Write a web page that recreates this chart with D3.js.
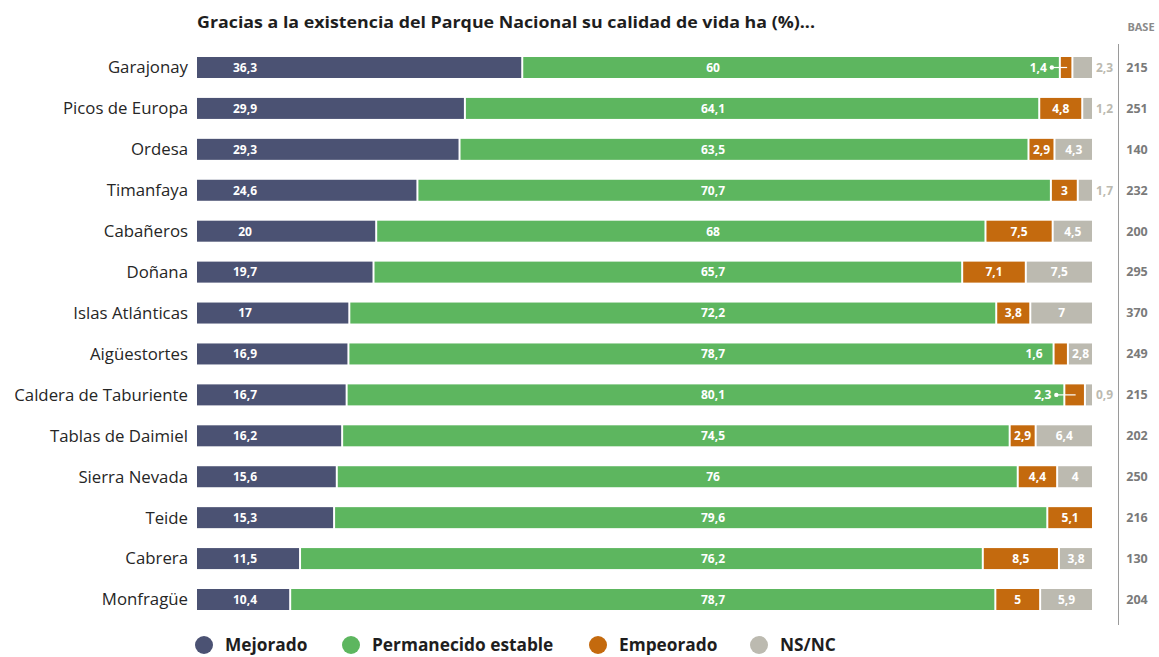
<!DOCTYPE html>
<html>
<head>
<meta charset="utf-8">
<script src="https://cdn.jsdelivr.net/npm/d3@7"></script>
<style>
  body { margin: 0; background: #fff; }
  svg text { font-family: "Open Sans", "Noto Sans", sans-serif; }
</style>
</head>
<body>
<svg id="chart" width="1159" height="657"></svg>
<script>
const parks = ["Garajonay", "Picos de Europa", "Ordesa", "Timanfaya", "Cabañeros", "Doñana",
  "Islas Atlánticas", "Aigüestortes", "Caldera de Taburiente", "Tablas de Daimiel",
  "Sierra Nevada", "Teide", "Cabrera", "Monfragüe"];
const mejorado = [36.3, 29.9, 29.3, 24.6, 20, 19.7, 17, 16.9, 16.7, 16.2, 15.6, 15.3, 11.5, 10.4];
const estable = [60, 64.1, 63.5, 70.7, 68, 65.7, 72.2, 78.7, 80.1, 74.5, 76, 79.6, 76.2, 78.7];
const empeorado = [1.4, 4.8, 2.9, 3, 7.5, 7.1, 3.8, 1.6, 2.3, 2.9, 4.4, 5.1, 8.5, 5];
const nsnc = [2.3, 1.2, 4.3, 1.7, 4.5, 7.5, 7, 2.8, 0.9, 6.4, 4, 0, 3.8, 5.9];
const base = [215, 251, 140, 232, 200, 295, 370, 249, 215, 202, 250, 216, 130, 204];
const seriesNames = ["Mejorado", "Permanecido estable", "Empeorado", "NS/NC"];
const colors = ["#4b5273", "#5db65f", "#c46a0e", "#bcbab0"];
// parks whose small "empeorado" label is pulled left with a dot leader
const leaderParks = ["Garajonay", "Caldera de Taburiente"];

const fmt = v => String(v).replace(".", ",");
const svg = d3.select("#chart");

const x = d3.scaleLinear().domain([0, 100]).range([197, 1093]);
const y = d3.scalePoint().domain(parks).range([67.5, 599.5]);
const barH = 21;

const rows = parks.map((p, i) => ({
  park: p, vals: [mejorado[i], estable[i], empeorado[i], nsnc[i]], base: base[i]
}));

// title
svg.append("text")
  .attr("x", 197).attr("y", 28)
  .attr("font-size", 16.5).attr("font-weight", 700).attr("fill", "#1e1e1e")
  .attr("textLength", 618).attr("lengthAdjust", "spacingAndGlyphs")
  .text("Gracias a la existencia del Parque Nacional su calidad de vida ha (%)...");

svg.append("text")
  .attr("x", 1141).attr("y", 31).attr("text-anchor", "middle")
  .attr("font-size", 11).attr("font-weight", 700).attr("fill", "#8a8a8a")
  .text("BASE");

svg.append("line")
  .attr("x1", 1118.5).attr("x2", 1118.5).attr("y1", 44).attr("y2", 625)
  .attr("stroke", "#9a9a9a").attr("stroke-width", 1);

const g = svg.selectAll(".row").data(rows).join("g")
  .attr("class", "row")
  .attr("transform", d => `translate(0,${y(d.park)})`);

g.append("text")
  .attr("x", 188).attr("y", 0).attr("dy", "0.35em").attr("text-anchor", "end")
  .attr("font-size", 16.8).attr("fill", "#262626")
  .text(d => d.park);

g.append("text")
  .attr("x", 1137).attr("y", 0).attr("dy", "0.35em").attr("text-anchor", "middle")
  .attr("font-size", 12.5).attr("font-weight", 700).attr("fill", "#7a7a7a")
  .text(d => d.base);

g.each(function(d) {
  const row = d3.select(this);
  let cum = 0;
  const segs = d.vals.map((v, i) => {
    const s = { i, v, c0: cum, c1: cum + v };
    cum += v;
    return s;
  });
  segs.filter(s => s.v > 0).forEach(s => {
    const x0 = x(s.c0) + (s.i > 0 ? 1 : 0);
    const x1 = x(s.c1) - 1;
    row.append("rect")
      .attr("x", x0).attr("y", -barH / 2)
      .attr("width", Math.max(1, x1 - x0)).attr("height", barH)
      .attr("fill", colors[s.i]);
  });

  const lab = (tx, txt, anchor, fill) => row.append("text")
    .attr("x", tx).attr("y", 0).attr("dy", "0.36em")
    .attr("text-anchor", anchor).attr("font-size", 12).attr("font-weight", 700)
    .attr("fill", fill).text(txt);

  // fixed label columns for the first two series
  lab(245, fmt(segs[0].v), "middle", "#fff");
  lab(713, fmt(segs[1].v), "middle", "#fff");

  // empeorado
  const e = segs[2];
  if (e.v >= 2.5) {
    lab((x(e.c0) + x(e.c1)) / 2, fmt(e.v), "middle", "#fff");
  } else if (leaderParks.includes(d.park)) {
    const gx = x(e.c0);
    lab(gx - 13, fmt(e.v), "end", "#fff");
    row.append("circle").attr("cx", gx - 8).attr("cy", 0).attr("r", 2.2).attr("fill", "#fff");
    row.append("line").attr("x1", gx - 8).attr("x2", (x(e.c0) + x(e.c1)) / 2 + 1)
      .attr("y1", 0).attr("y2", 0).attr("stroke", "#fff").attr("stroke-width", 1.2);
  } else {
    lab(x(e.c0) - 11, fmt(e.v), "end", "#fff");
  }

  // ns/nc
  const n = segs[3];
  if (n.v >= 2.5) {
    lab((x(n.c0) + x(n.c1)) / 2, fmt(n.v), "middle", "#fff");
  } else if (n.v > 0) {
    lab(x(100) + 3, fmt(n.v), "start", "#bcbab0");
  }
});

// legend
const legX = [204, 351, 598, 759];
const leg = svg.selectAll(".leg").data(seriesNames).join("g")
  .attr("class", "leg")
  .attr("transform", (d, i) => `translate(${legX[i]},645)`);
leg.append("circle").attr("r", 9).attr("fill", (d, i) => colors[i]);
leg.append("text")
  .attr("x", 21).attr("y", 0).attr("dy", "0.36em")
  .attr("font-size", 17.3).attr("font-weight", 700).attr("fill", "#1e1e1e")
  .text(d => d);
</script>
</body>
</html>
